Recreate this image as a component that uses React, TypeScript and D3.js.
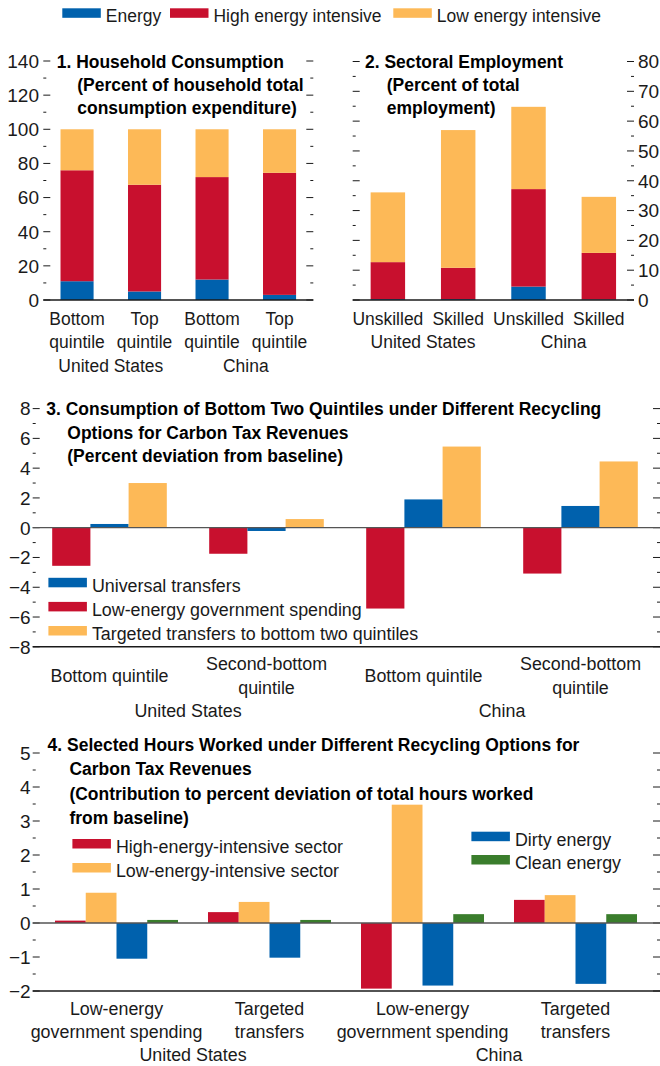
import React from "react";
import * as d3 from "d3";

const FONT = "'Liberation Sans', Arial, sans-serif";
const BLUE = "#0061ad";
const RED = "#c8102e";
const YELLOW = "#fdb957";
const GREEN = "#3a7d2c";
const INK = "#1a1a1a";
const FS = 19;
const KX = 0.94;
const KP = 0.92;
const KB = 0.92;

// ---------- Legend (top) ----------
const topLegendLabels = ["Energy", "High energy intensive", "Low energy intensive"];
const topLegendColors = [BLUE, RED, YELLOW];

// ---------- Panel 1 ----------
const p1Categories = ["US bottom", "US top", "China bottom", "China top"];
const p1Labels = [["Bottom", "quintile"], ["Top", "quintile"], ["Bottom", "quintile"], ["Top", "quintile"]];
const p1Energy = [11, 5, 12, 3];
const p1High = [65, 62.5, 60, 71.5];
const p1Low = [24, 32.5, 28, 25.5];
const p1Ticks = [0, 20, 40, 60, 80, 100, 120, 140];
const p1Title = ["1. Household Consumption", "(Percent of household total", "consumption expenditure)"];

// ---------- Panel 2 ----------
const p2Categories = ["US unskilled", "US skilled", "China unskilled", "China skilled"];
const p2Labels = [["Unskilled"], ["Skilled"], ["Unskilled"], ["Skilled"]];
const p2Energy = [0.3, 0.3, 4.5, 0.2];
const p2High = [12.4, 10.5, 32.7, 15.6];
const p2Low = [23.4, 46.2, 27.6, 18.8];
const p2Ticks = [0, 10, 20, 30, 40, 50, 60, 70, 80];
const p2Title = ["2. Sectoral Employment", "(Percent of total", "employment)"];

const countries = ["United States", "China"];

// ---------- Panel 3 ----------
const p3Categories = ["US bottom", "US second", "China bottom", "China second"];
const p3Labels = [["Bottom quintile"], ["Second-bottom", "quintile"], ["Bottom quintile"], ["Second-bottom", "quintile"]];
const p3Series = ["Low-energy government spending", "Universal transfers", "Targeted transfers to bottom two quintiles"];
const p3LowGov = [-2.56, -1.75, -5.43, -3.08];
const p3Universal = [0.25, -0.22, 1.9, 1.46];
const p3Targeted = [3.0, 0.58, 5.45, 4.45];
const p3Ticks = [-8, -6, -4, -2, 0, 2, 4, 6, 8];
const p3LegendOrder = ["Universal transfers", "Low-energy government spending", "Targeted transfers to bottom two quintiles"];
const p3Title = [
  "3. Consumption of Bottom Two Quintiles under Different Recycling",
  "Options for Carbon Tax Revenues",
  "(Percent deviation from baseline)",
];

// ---------- Panel 4 ----------
const p4Categories = ["US low-energy", "US targeted", "China low-energy", "China targeted"];
const p4Labels = [["Low-energy", "government spending"], ["Targeted", "transfers"], ["Low-energy", "government spending"], ["Targeted", "transfers"]];
const p4Series = ["High-energy-intensive sector", "Low-energy-intensive sector", "Dirty energy", "Clean energy"];
const p4High = [0.07, 0.32, -1.93, 0.68];
const p4Low = [0.89, 0.62, 3.48, 0.82];
const p4Dirty = [-1.05, -1.02, -1.84, -1.79];
const p4Clean = [0.09, 0.09, 0.26, 0.26];
const p4Ticks = [-2, -1, 0, 1, 2, 3, 4, 5];
const p4Title = [
  "4. Selected Hours Worked under Different Recycling Options for",
  "Carbon Tax Revenues",
  "(Contribution to percent deviation of total hours worked",
  "from baseline)",
];

const fmt = d3.format("d");

function Txt(props: {
  x: number;
  y: number;
  k?: number;
  anchor?: "start" | "middle" | "end";
  bold?: boolean;
  dy?: string;
  size?: number;
  children: React.ReactNode;
}) {
  const { x, y, k = KX, anchor = "start", bold = false, dy, size = FS, children } = props;
  return (
    <text
      transform={`translate(${x},${y}) scale(${k},1)`}
      textAnchor={anchor}
      fontWeight={bold ? "bold" : "normal"}
      fontSize={size}
      dy={dy}
      fill={bold ? "#000" : INK}
    >
      {children}
    </text>
  );
}

type TickProps = {
  y: d3.ScaleLinear<number, number>;
  ticks: number[];
  xl: number;
  xr: number;
  labelSide: "left" | "right" | "none";
  labelX: number;
};

function Ticks({ y, ticks, xl, xr, labelSide, labelX }: TickProps) {
  const step = ticks[1] - ticks[0];
  const minors = ticks.slice(0, -1).map((t) => t + step / 2);
  return (
    <g>
      {ticks.map((t) => (
        <g key={"M" + t}>
          <line x1={xl} x2={xl + 7} y1={y(t)} y2={y(t)} stroke={INK} strokeWidth={1} />
          <line x1={xr - 7} x2={xr} y1={y(t)} y2={y(t)} stroke={INK} strokeWidth={1} />
          {labelSide !== "none" && (
            <Txt x={labelX} y={y(t)} dy="0.36em" k={1} anchor={labelSide === "left" ? "end" : "start"}>
              {fmt(t)}
            </Txt>
          )}
        </g>
      ))}
      {minors.map((t) => (
        <g key={"m" + t}>
          <line x1={xl} x2={xl + 3} y1={y(t)} y2={y(t)} stroke={INK} strokeWidth={1} />
          <line x1={xr - 3} x2={xr} y1={y(t)} y2={y(t)} stroke={INK} strokeWidth={1} />
        </g>
      ))}
    </g>
  );
}

function Title({ lines, x, x2, y, dy }: { lines: string[]; x: number; x2: number; y: number; dy: number }) {
  return (
    <g>
      {lines.map((l, i) => (
        <Txt key={i} x={i === 0 ? x : x2} y={y + i * dy} bold k={KB}>
          {l}
        </Txt>
      ))}
    </g>
  );
}

function StackedPanel(props: {
  cats: string[];
  labels: string[][];
  energy: number[];
  high: number[];
  low: number[];
  ticks: number[];
  xl: number;
  xr: number;
  y0: number;
  y1: number;
  labelSide: "left" | "right";
  labelX: number;
}) {
  const { cats, labels, energy, high, low, ticks, xl, xr, y0, y1, labelSide, labelX } = props;
  const x = d3.scaleBand<string>().domain(cats).range([xl, xr]).paddingInner(0.51).paddingOuter(0.255);
  const y = d3.scaleLinear().domain([ticks[0], ticks[ticks.length - 1]]).range([y0, y1]);
  const rows = cats.map((c, i) => ({ cat: c, energy: energy[i], high: high[i], low: low[i] }));
  const stack = d3.stack<any>().keys(["energy", "high", "low"])(rows);
  const colors = [BLUE, RED, YELLOW];
  return (
    <g>
      {stack.map((s, si) => (
        <g key={si} fill={colors[si]}>
          {s.map((d, i) => (
            <rect
              key={i}
              x={x(cats[i])}
              width={x.bandwidth()}
              y={y(d[1])}
              height={Math.max(0, y(d[0]) - y(d[1]))}
            />
          ))}
        </g>
      ))}
      <Ticks y={y} ticks={ticks} xl={xl} xr={xr} labelSide={labelSide} labelX={labelX} />
      <line x1={xl} x2={xr} y1={y(0)} y2={y(0)} stroke={INK} strokeWidth={1.6} />
      {cats.map((c, i) => (
        <g key={c}>
          {labels[i].map((l, j) => (
            <Txt key={j} k={KP} x={(x(c) as number) + x.bandwidth() / 2} y={y0 + 25 + j * 23.3} anchor="middle">
              {l}
            </Txt>
          ))}
        </g>
      ))}
      {countries.map((cn, k) => {
        const a = x(cats[k * 2]) as number;
        const b = (x(cats[k * 2 + 1]) as number) + x.bandwidth();
        return (
          <Txt key={cn} k={KP} x={(a + b) / 2} y={y0 + 25 + labels[0].length * 23.3} anchor="middle">
            {cn}
          </Txt>
        );
      })}
    </g>
  );
}

function GroupedPanel(props: {
  cats: string[];
  labels: string[][];
  series: string[];
  values: number[][];
  colors: string[];
  ticks: number[];
  axisL: number;
  axisR: number;
  bandL: number;
  bandR: number;
  pad: number;
  y0: number;
  y1: number;
  labelCenter: number;
  countryY: number;
}) {
  const { cats, labels, series, values, colors, ticks, axisL, axisR, bandL, bandR, pad, y0, y1, labelCenter, countryY } = props;
  const x = d3.scaleBand<string>().domain(cats).range([bandL, bandR]).paddingInner(pad).paddingOuter(pad / 2);
  const xs = d3.scaleBand<string>().domain(series).range([0, x.bandwidth()]);
  const y = d3.scaleLinear().domain([ticks[0], ticks[ticks.length - 1]]).range([y0, y1]);
  const lh = 23.3;
  return (
    <g>
      {cats.map((c, i) => (
        <g key={c} transform={`translate(${x(c)},0)`}>
          {series.map((s, si) => {
            const v = values[si][i];
            return (
              <rect
                key={s}
                x={xs(s)}
                width={xs.bandwidth()}
                y={y(Math.max(0, v))}
                height={Math.abs(y(v) - y(0))}
                fill={colors[si]}
              />
            );
          })}
        </g>
      ))}
      <Ticks y={y} ticks={ticks} xl={axisL} xr={axisR} labelSide="left" labelX={axisL - 2} />
      <line x1={axisL} x2={axisR} y1={y(0)} y2={y(0)} stroke="#555" strokeWidth={1.3} />
      <line x1={axisL} x2={axisR} y1={y0} y2={y0} stroke={INK} strokeWidth={1.6} />
      {cats.map((c, i) => {
        const n = labels[i].length;
        return (
          <g key={c}>
            {labels[i].map((l, j) => (
              <Txt
                key={j}
                x={(x(c) as number) + x.bandwidth() / 2}
                y={labelCenter - ((n - 1) * lh) / 2 + j * lh}
                anchor="middle"
              >
                {l}
              </Txt>
            ))}
          </g>
        );
      })}
      {countries.map((cn, k) => {
        const a = (x(cats[k * 2]) as number) + x.bandwidth() / 2;
        const b = (x(cats[k * 2 + 1]) as number) + x.bandwidth() / 2;
        return (
          <Txt key={cn} x={(a + b) / 2} y={countryY} anchor="middle">
            {cn}
          </Txt>
        );
      })}
    </g>
  );
}

function LegendItem({ x, y, color, label, k = KX }: { x: number; y: number; color: string; label: string; k?: number }) {
  return (
    <g>
      <rect x={x} y={y} width={38.5} height={9.5} fill={color} />
      <Txt x={x + 43.5} y={y + 13.8} k={k}>
        {label}
      </Txt>
    </g>
  );
}

export default function App() {
  const topLegendX = [62.3, 170, 393.3];
  const p3Colors: Record<string, string> = {
    "Universal transfers": BLUE,
    "Low-energy government spending": RED,
    "Targeted transfers to bottom two quintiles": YELLOW,
  };
  return (
    <div style={{ position: "absolute", left: 0, top: 0 }}>
      <svg width={660} height={1066} style={{ display: "block", fontFamily: FONT }}>
        <rect width={660} height={1066} fill="#fff" />
        {topLegendLabels.map((l, i) => (
          <LegendItem key={l} x={topLegendX[i]} y={8.3} color={topLegendColors[i]} label={l} k={KP} />
        ))}

        <StackedPanel
          cats={p1Categories}
          labels={p1Labels}
          energy={p1Energy}
          high={p1High}
          low={p1Low}
          ticks={p1Ticks}
          xl={43.3}
          xr={313.3}
          y0={300}
          y1={61}
          labelSide="left"
          labelX={39}
        />
        <Title lines={p1Title} x={56.7} x2={77.3} y={67.7} dy={23} />

        <StackedPanel
          cats={p2Categories}
          labels={p2Labels}
          energy={p2Energy}
          high={p2High}
          low={p2Low}
          ticks={p2Ticks}
          xl={352.7}
          xr={634}
          y0={300}
          y1={61.5}
          labelSide="right"
          labelX={638}
        />
        <Title lines={p2Title} x={365} x2={386.7} y={67.7} dy={23} />

        <GroupedPanel
          cats={p3Categories}
          labels={p3Labels}
          series={p3Series}
          values={[p3LowGov, p3Universal, p3Targeted]}
          colors={[RED, BLUE, YELLOW]}
          ticks={p3Ticks}
          axisL={32.7}
          axisR={660}
          bandL={31}
          bandR={659}
          pad={0.27}
          y0={646.8}
          y1={408.6}
          labelCenter={682}
          countryY={716.7}
        />
        <Title lines={p3Title} x={46.3} x2={67.3} y={415} dy={23.7} />
        {p3LegendOrder.map((l, i) => (
          <LegendItem key={l} x={48.4} y={577.8 + i * 24.1} color={p3Colors[l]} label={l} />
        ))}

        <GroupedPanel
          cats={p4Categories}
          labels={p4Labels}
          series={p4Series}
          values={[p4High, p4Low, p4Dirty, p4Clean]}
          colors={[RED, YELLOW, BLUE, GREEN]}
          ticks={p4Ticks}
          axisL={32.7}
          axisR={660}
          bandL={40}
          bandR={652}
          pad={0.196}
          y0={991}
          y1={753}
          labelCenter={1026.6}
          countryY={1061}
        />
        <Title lines={p4Title} x={47.6} x2={69.4} y={751} dy={24.3} />
        <LegendItem x={72.4} y={839} color={RED} label={p4Series[0]} />
        <LegendItem x={72.4} y={863} color={YELLOW} label={p4Series[1]} />
        <LegendItem x={471.4} y={831.7} color={BLUE} label={p4Series[2]} />
        <LegendItem x={471.4} y={855} color={GREEN} label={p4Series[3]} />
      </svg>
    </div>
  );
}
